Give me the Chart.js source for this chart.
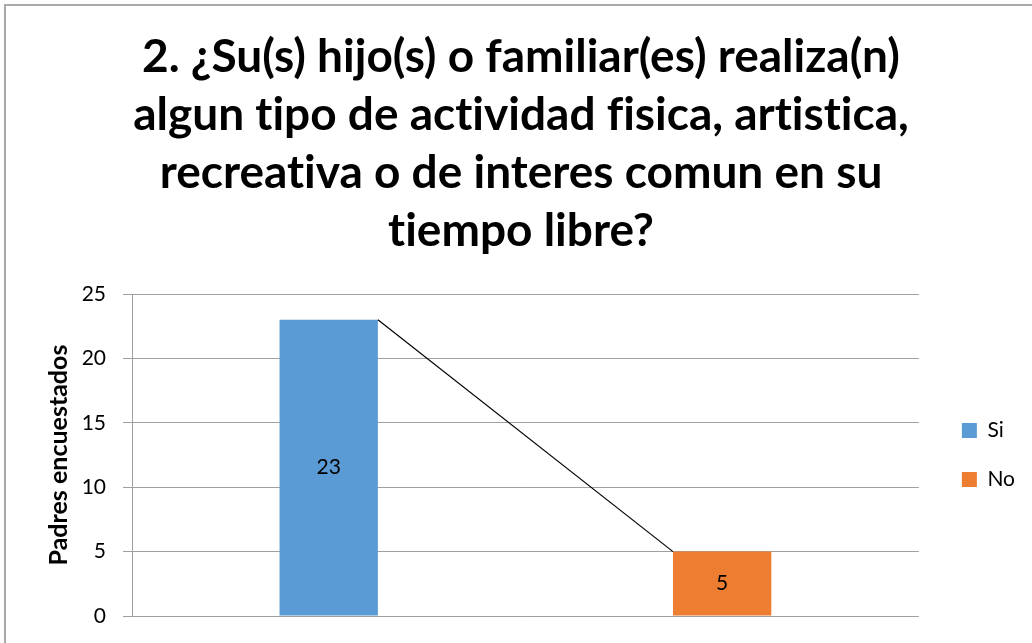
<!DOCTYPE html>
<html>
<head>
<meta charset="utf-8">
<script src="https://cdn.jsdelivr.net/npm/chart.js@4"></script>
<style>
  body { margin: 0; background: #fff; }
  #wrap { position: relative; width: 1032px; height: 643px; overflow: hidden; }
  #frame {
    position: absolute; left: 4px; top: 4px; width: 1100px; height: 700px;
    border-left: 2px solid #a9a9a9; border-top: 2px solid #a9a9a9;
    pointer-events: none;
  }
</style>
</head>
<body>
<div id="wrap">
  <canvas id="chart" width="1032" height="643"></canvas>
  <div id="frame"></div>
</div>
<script>
  const categories = ["Si", "No"];
  const siValues = [23, null];
  const noValues = [null, 5];
  const yTicks = [0, 5, 10, 15, 20, 25];
  const titleLines = [
    "2. ¿Su(s) hijo(s) o familiar(es) realiza(n)",
    "algun tipo de actividad fisica, artistica,",
    "recreativa o de interes comun en su",
    "tiempo libre?"
  ];

  const FONT = "Lato, 'Open Sans', sans-serif";

  // no ti / fi ligatures, closer to the original
  const noLigatures = {
    id: "noLigatures",
    beforeDraw(chart) { chart.ctx.textRendering = "optimizeSpeed"; }
  };

  // value in the middle of each bar
  const barLabels = {
    id: "barLabels",
    afterDatasetsDraw(chart) {
      const ctx = chart.ctx;
      ctx.save();
      ctx.font = "21px " + FONT;
      ctx.fillStyle = "#000";
      ctx.textAlign = "center";
      ctx.textBaseline = "middle";
      chart.data.datasets.forEach((ds, i) => {
        chart.getDatasetMeta(i).data.forEach((bar, j) => {
          const v = ds.data[j];
          if (v === null) return;
          ctx.fillText(String(v), bar.x, (bar.y + bar.base) / 2);
        });
      });
      ctx.restore();
    }
  };

  // thin line joining the top of the Si bar to the top of the No bar
  const joinLine = {
    id: "joinLine",
    afterDatasetsDraw(chart) {
      const a = chart.getDatasetMeta(0).data[0];
      const b = chart.getDatasetMeta(1).data[1];
      const ctx = chart.ctx;
      ctx.save();
      ctx.strokeStyle = "#000";
      ctx.lineWidth = 1.2;
      ctx.beginPath();
      ctx.moveTo(a.x + a.width / 2, a.y);
      ctx.lineTo(b.x - b.width / 2, b.y);
      ctx.stroke();
      ctx.restore();
    }
  };

  new Chart(document.getElementById("chart").getContext("2d"), {
    type: "bar",
    data: {
      labels: categories,
      datasets: [
        { label: "Si", data: siValues, backgroundColor: "#5b9bd5" },
        { label: "No", data: noValues, backgroundColor: "#ed7d31" }
      ]
    },
    options: {
      responsive: false,
      animation: false,
      grouped: false,
      categoryPercentage: 1,
      barPercentage: 0.25,
      layout: { padding: { left: 17, right: 7, top: 0, bottom: 27 } },
      plugins: {
        tooltip: { enabled: false },
        title: {
          display: true,
          text: titleLines,
          color: "#000",
          font: { family: FONT, size: 46, weight: "bold", lineHeight: 58 / 46 },
          padding: { top: 28, bottom: 34 }
        },
        legend: {
          position: "right",
          fullSize: false,
          labels: {
            color: "#000",
            font: { family: FONT, size: 21 },
            boxWidth: 15,
            boxHeight: 15,
            padding: 28
          }
        }
      },
      scales: {
        x: {
          grid: { display: false },
          border: { display: false },
          ticks: { display: false },
          afterFit(scale) { scale.height = 0; }
        },
        y: {
          min: 0,
          max: 25,
          afterBuildTicks(scale) { scale.ticks = yTicks.map(v => ({ value: v })); },
          grid: { color: "#a0a0a0", lineWidth: 1, tickLength: 9 },
          border: { color: "#a0a0a0" },
          ticks: { color: "#000", font: { family: FONT, size: 21 }, padding: 17 },
          title: {
            display: true,
            text: "Padres encuestados",
            color: "#000",
            font: { family: FONT, size: 25, weight: "bold" },
            padding: { top: 27, bottom: 0 }
          },
          afterFit(scale) {
            scale.width = 115;
            scale.paddingTop = 0;
            scale.paddingBottom = 0;
          }
        },
        spacer: {
          type: "linear",
          position: "right",
          grid: { display: false },
          border: { display: false },
          ticks: { display: false },
          afterFit(scale) { scale.width = 15; }
        }
      }
    },
    plugins: [noLigatures, barLabels, joinLine]
  });
</script>
</body>
</html>
